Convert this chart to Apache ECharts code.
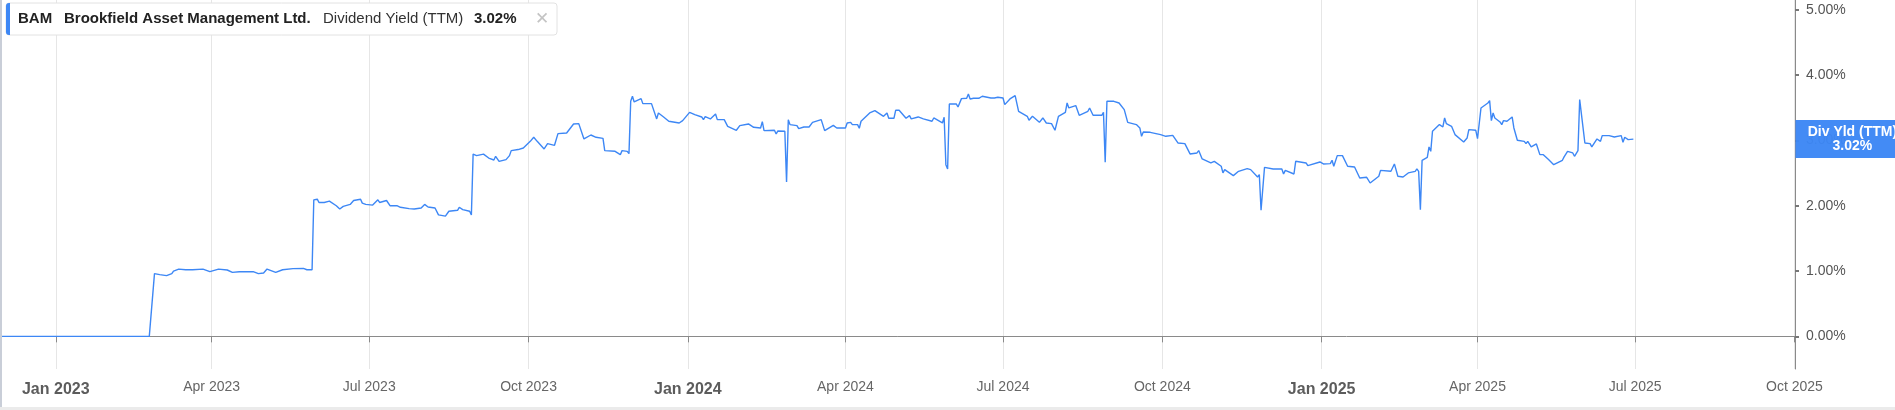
<!DOCTYPE html>
<html><head><meta charset="utf-8">
<script src="https://cdn.jsdelivr.net/npm/echarts@6/dist/echarts.min.js"></script>
<style>html,body{margin:0;padding:0;background:#fff;overflow:hidden}#c{width:1895px;height:410px}</style>
</head><body><div id="c"></div>
<script>
const dates = [
'2022-12-01','2023-02-24','2023-02-27','2023-03-02','2023-03-06','2023-03-09','2023-03-10','2023-03-13','2023-03-17','2023-03-21',
'2023-03-27','2023-03-31','2023-04-05','2023-04-10','2023-04-13','2023-04-17','2023-04-25','2023-04-28','2023-05-01','2023-05-03',
'2023-05-08','2023-05-12','2023-05-18','2023-05-24','2023-05-26','2023-05-29','2023-05-30','2023-06-01','2023-06-02','2023-06-05',
'2023-06-08','2023-06-12','2023-06-14','2023-06-16','2023-06-20','2023-06-22','2023-06-26','2023-06-27','2023-06-29','2023-07-03',
'2023-07-06','2023-07-07','2023-07-11','2023-07-13','2023-07-17','2023-07-19','2023-07-24','2023-07-27','2023-07-31','2023-08-02',
'2023-08-04','2023-08-08','2023-08-10','2023-08-14','2023-08-16','2023-08-21','2023-08-22','2023-08-24','2023-08-28','2023-08-29',
'2023-08-30','2023-09-01','2023-09-05','2023-09-08','2023-09-11','2023-09-12','2023-09-14','2023-09-18','2023-09-20','2023-09-21',
'2023-09-25','2023-09-28','2023-10-02','2023-10-04','2023-10-06','2023-10-10','2023-10-12','2023-10-16','2023-10-18','2023-10-19',
'2023-10-23','2023-10-24','2023-10-27','2023-10-30','2023-10-31','2023-11-02','2023-11-06','2023-11-09','2023-11-13','2023-11-14',
'2023-11-20','2023-11-21','2023-11-23','2023-11-24','2023-11-27','2023-11-28','2023-11-29','2023-11-30','2023-12-01','2023-12-05',
'2023-12-06','2023-12-11','2023-12-14','2023-12-15','2023-12-18','2023-12-21','2023-12-27','2023-12-29','2024-01-02','2024-01-05',
'2024-01-09','2024-01-10','2024-01-11','2024-01-14','2024-01-17','2024-01-18','2024-01-22','2024-01-24','2024-01-29','2024-01-31',
'2024-02-05','2024-02-08','2024-02-12','2024-02-13','2024-02-14','2024-02-20','2024-02-21','2024-02-22','2024-02-26','2024-02-27',
'2024-02-28','2024-02-29','2024-03-04','2024-03-05','2024-03-08','2024-03-11','2024-03-13','2024-03-18','2024-03-20','2024-03-25',
'2024-03-27','2024-04-01','2024-04-02','2024-04-03','2024-04-04','2024-04-05','2024-04-08','2024-04-09','2024-04-10','2024-04-15',
'2024-04-18','2024-04-23','2024-04-25','2024-04-26','2024-04-29','2024-04-30','2024-05-02','2024-05-06','2024-05-08','2024-05-09',
'2024-05-13','2024-05-16','2024-05-17','2024-05-21','2024-05-22','2024-05-27','2024-05-28','2024-05-29','2024-05-30','2024-05-31',
'2024-06-04','2024-06-05','2024-06-07','2024-06-10','2024-06-11','2024-06-12','2024-06-14','2024-06-17','2024-06-19','2024-06-24',
'2024-06-26','2024-06-28','2024-07-01','2024-07-02','2024-07-05','2024-07-08','2024-07-10','2024-07-15','2024-07-16','2024-07-18',
'2024-07-22','2024-07-24','2024-07-26','2024-07-29','2024-07-31','2024-08-02','2024-08-06','2024-08-07','2024-08-08','2024-08-12',
'2024-08-14','2024-08-19','2024-08-20','2024-08-22','2024-08-27','2024-08-28','2024-08-29','2024-08-30','2024-09-03','2024-09-04',
'2024-09-06','2024-09-09','2024-09-11','2024-09-16','2024-09-18','2024-09-19','2024-09-20','2024-09-24','2024-09-30','2024-10-03',
'2024-10-07','2024-10-10','2024-10-14','2024-10-17','2024-10-21','2024-10-22','2024-10-24','2024-10-29','2024-10-31','2024-11-04',
'2024-11-05','2024-11-06','2024-11-11','2024-11-14','2024-11-19','2024-11-21','2024-11-22','2024-11-25','2024-11-26','2024-11-27',
'2024-11-29','2024-12-04','2024-12-09','2024-12-10','2024-12-11','2024-12-16','2024-12-17','2024-12-23','2024-12-24','2024-12-31',
'2025-01-02','2025-01-06','2025-01-07','2025-01-08','2025-01-10','2025-01-13','2025-01-16','2025-01-20','2025-01-23','2025-01-27',
'2025-01-29','2025-02-03','2025-02-04','2025-02-05','2025-02-10','2025-02-12','2025-02-14','2025-02-17','2025-02-18','2025-02-20',
'2025-02-24','2025-02-25','2025-02-26','2025-02-27','2025-02-28','2025-03-03','2025-03-04','2025-03-05','2025-03-06','2025-03-10',
'2025-03-11','2025-03-12','2025-03-13','2025-03-14','2025-03-17','2025-03-19','2025-03-20','2025-03-24','2025-03-26','2025-03-27',
'2025-03-31','2025-04-01','2025-04-03','2025-04-07','2025-04-08','2025-04-09','2025-04-10','2025-04-11','2025-04-14','2025-04-15',
'2025-04-16','2025-04-18','2025-04-21','2025-04-22','2025-04-24','2025-04-28','2025-04-29','2025-04-30','2025-05-02','2025-05-05',
'2025-05-07','2025-05-09','2025-05-12','2025-05-15','2025-05-16','2025-05-20','2025-05-21','2025-05-23','2025-05-26','2025-05-27',
'2025-05-29','2025-05-30','2025-06-02','2025-06-05','2025-06-06','2025-06-09','2025-06-11','2025-06-12','2025-06-16','2025-06-17',
'2025-06-19','2025-06-23','2025-06-24','2025-06-25','2025-06-27','2025-06-30'
];
const values = [
0,0,0.96,0.945,0.93,0.96,1.00,1.03,1.02,1.02,
1.03,0.99,1.03,1.016,0.98,0.99,0.99,0.96,0.97,1.03,
0.98,1.02,1.037,1.04,1.02,1.02,2.09,2.10,2.05,2.05,
2.07,2.00,1.95,1.99,2.02,2.08,2.10,2.04,2.02,2.01,
2.09,2.05,2.08,2.00,2.00,1.976,1.955,1.95,1.966,2.02,
1.98,1.966,1.86,1.84,1.915,1.93,1.976,1.94,1.915,1.86,
2.79,2.767,2.79,2.73,2.70,2.757,2.68,2.706,2.767,2.844,
2.86,2.884,2.986,3.048,2.986,2.87,2.95,2.925,3.104,3.124,
3.114,3.089,3.252,3.257,3.283,3.022,3.083,3.048,3.032,2.844,
2.833,2.859,2.782,2.844,2.833,2.798,3.599,3.676,3.589,3.64,
3.563,3.563,3.329,3.42,3.359,3.293,3.267,3.303,3.43,3.395,
3.359,3.318,3.364,3.329,3.405,3.318,3.318,3.216,3.155,3.226,
3.252,3.201,3.191,3.288,3.15,3.155,3.099,3.145,3.14,2.364,
3.318,3.242,3.226,3.18,3.206,3.206,3.277,3.318,3.15,3.231,
3.191,3.191,3.267,3.242,3.277,3.242,3.242,3.186,3.293,3.42,
3.456,3.369,3.42,3.339,3.339,3.461,3.461,3.339,3.38,3.329,
3.359,3.329,3.308,3.293,3.344,3.267,3.354,2.629,2.563,3.558,
3.558,3.512,3.64,3.645,3.711,3.635,3.645,3.645,3.676,3.65,
3.65,3.66,3.65,3.548,3.635,3.686,3.446,3.369,3.308,3.369,
3.277,3.344,3.267,3.257,3.155,3.369,3.43,3.573,3.497,3.533,
3.385,3.446,3.497,3.385,3.385,3.43,2.665,3.599,3.599,3.625,
3.573,3.471,3.277,3.242,3.191,3.063,3.129,3.124,3.089,3.063,
3.078,2.961,2.951,2.793,2.808,2.844,2.716,2.655,2.68,2.604,
2.502,2.553,2.461,2.527,2.568,2.553,2.527,2.44,2.476,1.93,
2.588,2.563,2.563,2.486,2.542,2.486,2.68,2.655,2.614,2.67,
2.64,2.645,2.696,2.604,2.767,2.767,2.604,2.593,2.425,2.435,
2.348,2.451,2.542,2.517,2.527,2.64,2.451,2.44,2.41,2.502,
2.527,2.563,2.527,1.94,2.696,2.741,2.90,2.833,3.14,3.242,
3.267,3.206,3.344,3.257,3.216,3.089,3.114,2.976,3.038,3.165,
3.155,3.027,3.497,3.573,3.609,3.303,3.42,3.344,3.283,3.242,
3.303,3.293,3.359,3.191,3.002,2.986,2.951,2.986,2.90,2.946,
2.782,2.782,2.706,2.629,2.64,2.696,2.747,2.833,2.808,2.757,
2.844,3.625,2.961,2.951,2.90,3.022,2.986,3.073,3.073,3.099,
3.053,3.073,2.971,3.048,3.012,3.02
];
const xTickDates = ['2023-01-01','2023-04-01','2023-07-01','2023-10-01','2024-01-01','2024-04-01','2024-07-01','2024-10-01','2025-01-01','2025-04-01','2025-07-01','2025-10-01'];
const xTickLabels = ['Jan 2023','Apr 2023','Jul 2023','Oct 2023','Jan 2024','Apr 2024','Jul 2024','Oct 2024','Jan 2025','Apr 2025','Jul 2025','Oct 2025'];
const xTickMajor = [true,false,false,false,true,false,false,false,true,false,false,false];
const yTicks = [0,1,2,3,4,5];
const legendTicker = 'BAM';
const legendName = 'Brookfield Asset Management Ltd.';
const legendMetric = 'Dividend Yield (TTM)';
const tagTitle = 'Div Yld (TTM)';

const FONT = "'Liberation Sans', Arial, Helvetica, sans-serif";
const BLUE = '#3d87f5';
function ts(s){ const p = s.split('-').map(Number); return Date.UTC(p[0], p[1]-1, p[2]); }
const xTickTs = xTickDates.map(ts);
const lastValue = values[values.length-1];
const lastText = lastValue.toFixed(2) + '%';
const seriesData = dates.map((d,i)=>[ts(d), values[i]]);
const zeroLineColors = yTicks.map(v => v === 0 ? '#7a7a7a' : 'rgba(0,0,0,0)');

const chart = echarts.init(document.getElementById('c'), null, {renderer:'canvas'});
const option = {
  animation:false,
  textStyle:{fontFamily:FONT},
  grid:{left:0,right:100,top:0,bottom:41,containLabel:false},
  xAxis:{
    type:'value',
    min: ts('2022-11-29') + 19*3600e3,
    max: ts('2025-10-01') + 8*3600e3,
    axisLine:{show:true,lineStyle:{color:'#8a8a8a',width:1}},
    axisTick:{show:true,customValues:xTickTs,length:6,lineStyle:{color:'#8a8a8a',width:1}},
    axisLabel:{
      customValues:xTickTs, margin:11, hideOverlap:false,
      formatter:function(v){
        const i = xTickTs.findIndex(t=>Math.abs(t-v)<43200000);
        if(i<0) return '';
        return xTickMajor[i] ? '{b|'+xTickLabels[i]+'}' : '{n|'+xTickLabels[i]+'}';
      },
      rich:{
        b:{fontSize:16,fontWeight:'bold',color:'#5c5c5c',lineHeight:20,fontFamily:FONT},
        n:{fontSize:14,color:'#666',lineHeight:14,fontFamily:FONT}
      }
    },
    splitLine:{show:true,lineStyle:{color:'#e6e6e6',width:1}}
  },
  yAxis:{
    type:'value', position:'right', min:-0.5, max:5.15,
    axisLine:{show:true,lineStyle:{color:'#8a8a8a',width:1}},
    axisTick:{show:true,customValues:yTicks,length:4,lineStyle:{color:'#777',width:2}},
    axisLabel:{customValues:yTicks,margin:11,formatter:v=>v.toFixed(2)+'%',color:'#555',fontSize:14,fontFamily:FONT},
    splitLine:{show:true,lineStyle:{color:zeroLineColors,width:1,type:[1.5,2.5]}}
  },
  series:[
    {
      type:'line', data:seriesData, showSymbol:false, symbol:'none', z:3,
      lineStyle:{color:BLUE,width:1.4}
    }
  ]
};
chart.setOption(option);

const tagY = chart.convertToPixel({yAxisIndex:0}, lastValue);
const tagX = chart.convertToPixel({xAxisIndex:0}, xTickTs[xTickTs.length-1]);
chart.setOption({
  graphic:[
    {type:'rect',silent:true,z:50,shape:{x:0,y:0,width:2,height:407},style:{fill:'#c9ced8'}},
    {type:'rect',silent:true,z:50,shape:{x:0,y:407,width:1895,height:3},style:{fill:'#ebebeb'}},
    {type:'rect',silent:true,z:60,shape:{x:6,y:3,width:551,height:32,r:3},style:{fill:'#fff',stroke:'#e2e2e2',lineWidth:1}},
    {type:'rect',silent:true,z:61,shape:{x:6,y:3,width:4,height:32,r:[3,0,0,3]},style:{fill:BLUE}},
    {type:'text',silent:true,z:62,x:18,y:19,style:{text:legendTicker,font:'bold 15px '+FONT,fill:'#222',verticalAlign:'middle'}},
    {type:'text',silent:true,z:62,x:64,y:19,style:{text:legendName,font:'bold 15px '+FONT,fill:'#222',verticalAlign:'middle'}},
    {type:'text',silent:true,z:62,x:323,y:19,style:{text:legendMetric,font:'15px '+FONT,fill:'#333',verticalAlign:'middle'}},
    {type:'text',silent:true,z:62,x:474,y:19,style:{text:lastText,font:'bold 15px '+FONT,fill:'#222',verticalAlign:'middle'}},
    {type:'text',silent:true,z:62,x:535,y:19,style:{text:'\u2715',font:'17px '+FONT,fill:'#c4c4c4',verticalAlign:'middle'}},
    {type:'rect',silent:true,z:70,shape:{x:tagX+1,y:tagY-19,width:1895-tagX,height:38},style:{fill:BLUE,opacity:0.97}},
    {type:'text',silent:true,z:71,x:tagX+58,y:tagY,style:{text:tagTitle+'\n'+lastText,font:'bold 14px '+FONT,fill:'#fff',align:'center',verticalAlign:'middle',lineHeight:14}}
  ]
});
</script>
</body></html>
